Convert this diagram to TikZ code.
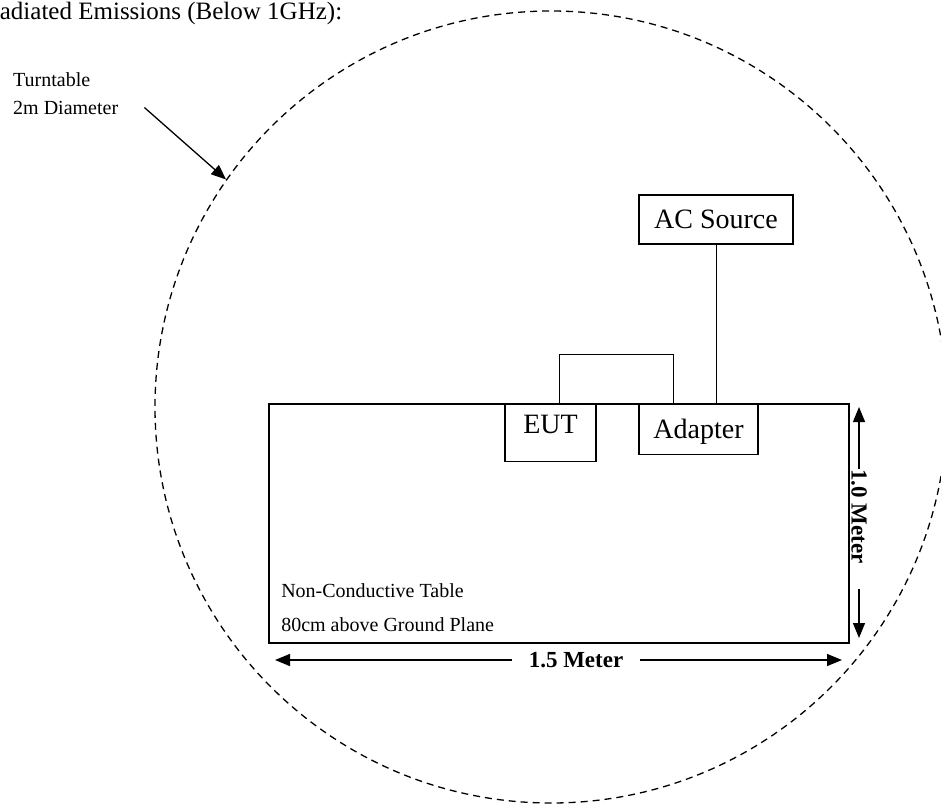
\documentclass[tikz,border=0pt]{standalone}
\usepackage{fontspec}
\setmainfont{Liberation Serif}
\usetikzlibrary{arrows.meta, positioning, calc}

\begin{document}
\begin{tikzpicture}[
        x=1pt, y=-1pt,
        box/.style={rectangle, draw, line width=1.3pt, inner sep=0pt, font=\fontsize{28}{30}\selectfont},
        tablebox/.style={rectangle, draw, line width=1.8pt, inner sep=0pt},
        turntable/.style={circle, draw, line width=1.3pt, dash pattern=on 7pt off 5pt, inner sep=0pt, minimum size=792pt},
        wire/.style={line width=0.9pt},
        arrow/.style={line width=1.3pt, -{Triangle[length=15pt, width=12pt]}},
        note/.style={align=left, inner sep=0pt, font=\fontsize{20}{34}\selectfont},
        dimlabel/.style={fill=white, inner sep=0pt, font=\bfseries\fontsize{23}{25}\selectfont}
    ]
        \useasboundingbox (0,0) rectangle (941,805);

        % Title
        \node[anchor=base west, inner sep=0pt, font=\fontsize{25}{28}\selectfont] (title) at (-17,20) {Radiated Emissions (Below 1GHz):};

        % Turntable
        \node[turntable] (tt) at (551,407) {};
        \node[note, anchor=north west, font=\fontsize{20}{28}\selectfont] (ttlbl) at (13,72) {Turntable\\2m Diameter};

        % Table and equipment
        \node[tablebox, minimum width=580pt, minimum height=239pt] (table) at (559,523.5) {};
        \node[note, anchor=south west] (tnote) at ([xshift=13pt, yshift=12pt]table.south west) {Non-Conductive Table\\80cm above Ground Plane};
        \node[box, anchor=north, minimum width=91pt, text height=29pt, text depth=28pt] (eut) at (550.5,404) {EUT};
        \node[box, anchor=north, minimum width=119pt, text height=34pt, text depth=16pt] (adapter) at (698.5,404) {Adapter};
        \node[box, minimum width=154pt, text height=33pt, text depth=16pt] (ac) at (716,219.5) {AC Source};

        % Dimensions
        \coordinate (hl) at (275,660);
        \coordinate (hr) at (842,660);
        \coordinate (vt) at (859,407);
        \coordinate (vb) at (859,638);
        \node[dimlabel, minimum width=127pt] (hlab) at (576,660) {1.5 Meter};
        \node[dimlabel, rotate=-90] (vlab) at (859,516.5) {1.0 Meter};

        % Connections
        \draw[wire] (ac.south) -- (ac.south |- adapter.north);
        \draw[wire] ([xshift=8.5pt]eut.north) -- ++(0,-50) -| ([xshift=-25.5pt]adapter.north);
        \draw[arrow] ([xshift=26pt, yshift=7pt]ttlbl.south east) -- (tt.145);
        \draw[arrow] (hlab.west) -- (hl);
        \draw[arrow] (hlab.east) -- (hr);
        \draw[arrow] (vlab.west) -- (vt);
        \draw[arrow] ([yshift=-25pt]vlab.east) -- (vb);
    \end{tikzpicture}
\end{document}
